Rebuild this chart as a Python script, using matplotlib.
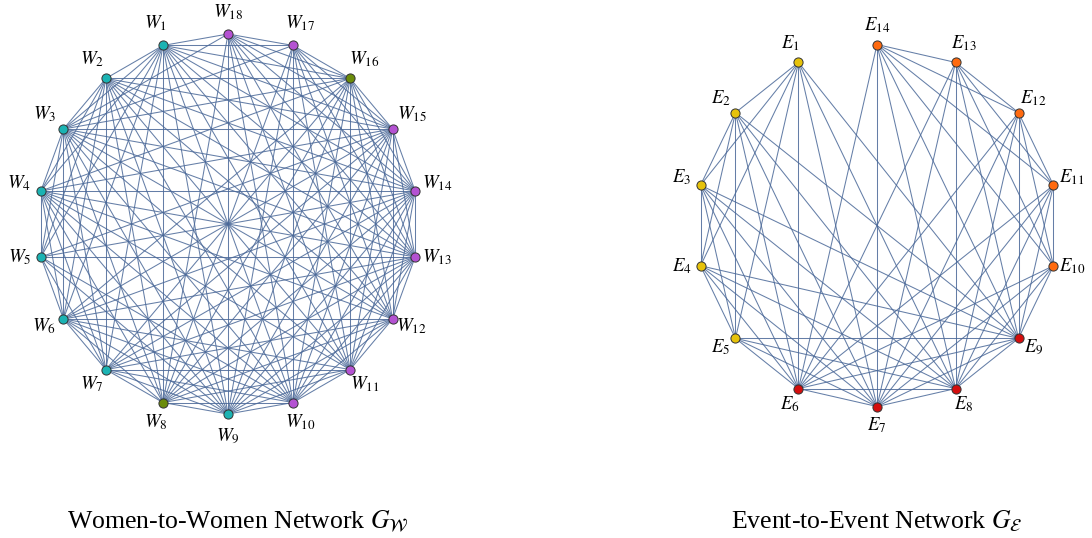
import numpy as np
import matplotlib
matplotlib.use("Agg")
import matplotlib.pyplot as plt
from itertools import combinations

plt.rcParams["font.family"] = ["Liberation Serif", "DejaVu Serif"]
plt.rcParams["mathtext.fontset"] = "stix"

# --- Donnees : evenements frequentes par chaque femme (W1..W18) ---
participation = [
    [1, 2, 3, 4, 5, 6, 8, 9],
    [1, 2, 3, 5, 6, 7, 8],
    [2, 3, 4, 5, 6, 7, 8, 9],
    [1, 3, 4, 5, 6, 7, 8],
    [3, 4, 5, 7],
    [3, 5, 6, 8],
    [5, 6, 7, 8],
    [6, 8, 9],
    [5, 7, 8, 9],
    [7, 8, 9, 12],
    [8, 9, 10, 12],
    [8, 9, 10, 12, 13, 14],
    [7, 8, 9, 10, 12, 13, 14],
    [6, 7, 9, 10, 11, 12, 13, 14],
    [7, 8, 10, 11, 12],
    [8, 9],
    [9, 11],
    [9, 11],
]
n_femmes = 18
n_events = 14

# communautes
groupe_femmes = ["a", "a", "a", "a", "a", "a", "a", "b", "a",
                 "c", "c", "c", "c", "c", "c", "b", "c", "c"]
groupe_events = ["y", "y", "y", "y", "y", "r", "r", "r", "r",
                 "o", "o", "o", "o", "o"]

couleurs = {"a": "#1bb3b3", "b": "#6b8c0a", "c": "#b452d2",
            "y": "#e6c20a", "r": "#d40d0d", "o": "#ff6a0f"}
couleur_arete = "#4a6898"

# --- Aretes (co-participation) ---
aretes_femmes = set()
for i, j in combinations(range(n_femmes), 2):
    if set(participation[i]) & set(participation[j]):
        aretes_femmes.add((i, j))

aretes_events = set()
for evs in participation:
    for a, b in combinations(sorted(evs), 2):
        aretes_events.add((a - 1, b - 1))


def positions(n, cx, cy, r, angle_debut):
    ang = np.deg2rad(angle_debut + np.arange(n) * 360.0 / n)
    return cx + r * np.cos(ang), cy - r * np.sin(ang), ang


def dessiner(ax, n, aretes, groupes, prefixe, cx, cy, r, angle_debut, dlab):
    xs, ys, ang = positions(n, cx, cy, r, angle_debut)
    for i, j in sorted(aretes):
        ax.plot([xs[i], xs[j]], [ys[i], ys[j]], color=couleur_arete,
                lw=0.75, alpha=0.85, zorder=1, solid_capstyle="butt")
    for k in range(n):
        ax.plot(xs[k], ys[k], "o", ms=6.6, mfc=couleurs[groupes[k]],
                mec="#333333", mew=0.7, zorder=3)
        lx = xs[k] + dlab * np.cos(ang[k])
        ly = ys[k] - dlab * np.sin(ang[k]) - 4 * abs(np.cos(ang[k]))
        ax.text(lx, ly, "$%s_{%d}$" % (prefixe, k + 1), fontsize=13.5,
                ha="center", va="center", zorder=4)


fig = plt.figure(figsize=(10.92, 5.38), dpi=100)
ax = fig.add_axes([0, 0, 1, 1])
ax.set_xlim(0, 1092)
ax.set_ylim(538, 0)
ax.axis("off")

# W1 a 110 deg, W18 en haut
dessiner(ax, n_femmes, aretes_femmes, groupe_femmes, "W",
         228, 224, 190, 110, 22)
# E1 a ~115.7 deg, E14 en haut
dessiner(ax, n_events, aretes_events, groupe_events, "E",
         877, 225.5, 181, 90 + 360.0 / n_events, 19)

ax.text(238, 521, r"Women-to-Women Network $G_{\mathcal{W}}$",
        fontsize=18.5, ha="center", va="center")
ax.text(877, 521, r"Event-to-Event Network $G_{\mathcal{E}}$",
        fontsize=18.5, ha="center", va="center")

fig.savefig("out.png", dpi=100)
